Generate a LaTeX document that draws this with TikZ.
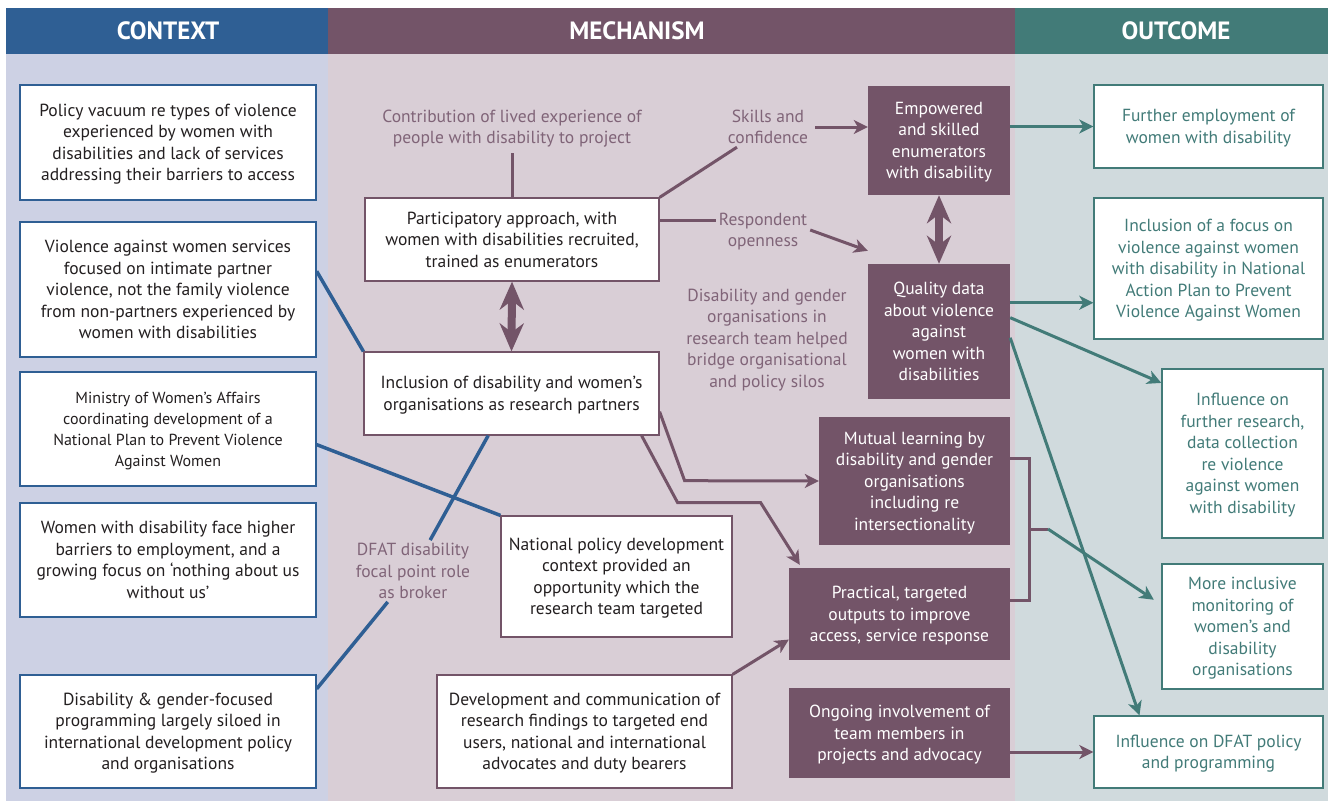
\documentclass[tikz,border=0pt]{standalone}
\usepackage{fontspec}
\setmainfont{PT Sans}
\usepackage{xcolor}
\usetikzlibrary{arrows.meta}
\definecolor{ctxblue}{HTML}{2F5F94}
\definecolor{mechpurple}{HTML}{735468}
\definecolor{outteal}{HTML}{427B78}
\definecolor{ctxbg}{HTML}{CDD1E4}
\definecolor{mechbg}{HTML}{D9CED6}
\definecolor{outbg}{HTML}{D0DADD}
\definecolor{mechtext}{HTML}{806478}
\definecolor{boxtext}{HTML}{231F20}
\newcommand\bodysize{\fontsize{17.5}{21.5}\selectfont}

\begin{document}
\begin{tikzpicture}[x=1pt,y=-1pt]
  \tikzstyle{every node}=[align=center,font=\bodysize,text depth=-2pt]
  \tikzstyle{ctxbox}=[draw=ctxblue,line width=1.4pt,fill=white,text=boxtext,minimum width=296pt]
  \tikzstyle{mechbox}=[draw=mechpurple,line width=1.2pt,fill=white,text=boxtext]
  \tikzstyle{darkbox}=[fill=mechpurple,text=white]
  \tikzstyle{outbox}=[draw=outteal,line width=1.4pt,fill=white,text=outteal]
  \tikzstyle{label}=[text=mechtext,inner sep=3pt]
  \tikzstyle{head}=[text=white,font=\fontsize{25}{28}\selectfont\bfseries]
  \tikzstyle{blueline}=[draw=ctxblue,line width=3.5pt]
  \tikzstyle{purpleline}=[draw=mechpurple,line width=3pt]
  \tikzstyle{purplearrow}=[purpleline,-{Stealth[length=14pt,width=14pt,inset=4pt]}]
  \tikzstyle{tealarrow}=[draw=outteal,line width=3pt,-{Stealth[length=14pt,width=14pt,inset=4pt]}]
  \tikzstyle{twoway}=[draw=mechpurple,line width=8pt,{Stealth[length=28pt,width=24pt,inset=9pt]}-{Stealth[length=28pt,width=24pt,inset=9pt]}]

  \useasboundingbox (0,0) rectangle (1330,807);
  \fill[ctxbg] (6,54) rectangle (328,801);
  \fill[mechbg] (328,54) rectangle (1015,801);
  \fill[outbg] (1015,54) rectangle (1328,801);
  \fill[ctxblue] (6,8) rectangle (328,54);
  \fill[mechpurple] (328,8) rectangle (1015,54);
  \fill[outteal] (1015,8) rectangle (1328,54);
  \node[head] (hctx) at (168,31) {CONTEXT};
  \node[head] (hmech) at (637,31) {MECHANISM};
  \node[head] (hout) at (1176,31) {OUTCOME};

  \node[ctxbox,minimum height=115pt] (vacuum) at (168,142.5) {Policy vacuum re types of violence\\experienced by women with\\disabilities and lack of services\\addressing their barriers to access};
  \node[ctxbox,minimum height=135pt] (vaw) at (168,289.5) {Violence against women services\\focused on intimate partner\\violence, not the family violence\\from non-partners experienced by\\women with disabilities};
  \node[ctxbox,minimum height=114pt,font=\fontsize{16}{21}\selectfont] (ministry) at (168,429) {Ministry of Women’s Affairs\\coordinating development of a\\National Plan to Prevent Violence\\Against Women};
  \node[ctxbox,minimum height=114pt] (barriers) at (168,560) {Women with disability face higher\\barriers to employment, and a\\growing focus on ‘nothing about us\\without us’};
  \node[ctxbox,minimum height=113pt] (siloed) at (168,731.5) {Disability \& gender-focused\\programming largely siloed in\\international development policy\\and organisations};

  \node[label] (lived) at (512,127) {Contribution of lived experience of\\people with disability to project};
  \node[mechbox,minimum width=294pt,minimum height=83pt] (particip) at (512,239.5) {Participatory approach, with\\women with disabilities recruited,\\trained as enumerators};
  \node[mechbox,minimum width=295pt,minimum height=83pt] (inclusion) at (511.5,393.5) {Inclusion of disability and women’s\\organisations as research partners};
  \node[label] (skills) at (768,127) {Skills and\\confidence};
  \node[label] (openness) at (763,230) {Respondent\\openness};
  \node[label] (silos) at (767,338) {Disability and gender\\organisations in\\research team helped\\bridge organisational\\and policy silos};
  \node[label] (broker) at (413,571) {DFAT disability\\focal point role\\as broker};
  \node[darkbox,minimum width=142pt,minimum height=109pt] (empowered) at (939,140.5) {Empowered\\and skilled\\enumerators\\with disability};
  \node[darkbox,minimum width=142pt,minimum height=135pt] (quality) at (939,331.5) {Quality data\\about violence\\against\\women with\\disabilities};
  \node[darkbox,minimum width=191pt,minimum height=128pt] (mutual) at (914.5,481) {Mutual learning by\\disability and gender\\organisations\\including re\\intersectionality};
  \node[darkbox,minimum width=221pt,minimum height=92pt] (outputs) at (899.5,614) {Practical, targeted\\outputs to improve\\access, service response};
  \node[darkbox,minimum width=221pt,minimum height=90pt] (ongoing) at (899.5,733) {Ongoing involvement of\\team members in\\projects and advocacy};
  \node[mechbox,minimum width=231pt,minimum height=121pt] (policyctx) at (616.5,576.5) {National policy development\\context provided an\\opportunity which the\\research team targeted};
  \node[mechbox,minimum width=295pt,minimum height=113pt] (findings) at (584.5,731.5) {Development and communication of\\research findings to targeted end\\users, national and international\\advocates and duty bearers};

  \node[outbox,minimum width=229pt,minimum height=83pt] (employ) at (1208.5,126.5) {Further employment of\\women with disability};
  \node[outbox,minimum width=229pt,minimum height=141pt] (nap) at (1208.5,268.5) {Inclusion of a focus on\\violence against women\\with disability in National\\Action Plan to Prevent\\Violence Against Women};
  \node[outbox,minimum width=161pt,minimum height=169pt] (research) at (1242.5,453.5) {Influence on\\further research,\\data collection\\re violence\\against women\\with disability};
  \node[outbox,minimum width=161pt,minimum height=125pt] (monitor) at (1242.5,626.5) {More inclusive\\monitoring of\\women’s and\\disability\\organisations};
  \node[outbox,minimum width=229pt,minimum height=72pt] (dfatpol) at (1208.5,752) {Influence on DFAT policy\\and programming};

  \draw[blueline] (vaw.7) -- (inclusion.north west);
  \draw[blueline] (ministry.-6) -- (policyctx.north west);
  \draw[blueline] (siloed.16) -- (broker);
  \draw[blueline] (broker) -- (inclusion);

  \draw[purpleline,shorten <=6pt] (lived) -- (particip);
  \draw[purpleline] (particip.north east) -- (skills);
  \draw[purplearrow,shorten <=4pt] (skills.east) -- (skills.east -| empowered.west);
  \draw[purpleline] (particip.east |- openness.169) -- (openness.169);
  \draw[purplearrow] (openness.east) -- ([yshift=13pt]quality.north west);
  \draw[twoway] (empowered.south) -- (quality.north);
  \draw[twoway] (particip.south) -- (inclusion.north);
  \draw[purplearrow] (inclusion.-7) -- ++(25,69) -- (mutual.west);
  \draw[purplearrow] ([xshift=-18pt]inclusion.south east) -- ++(36,67) -- ++(83,0) -- ([xshift=11pt,yshift=3pt]outputs.north west);
  \draw[purplearrow] (findings.north east) -- (outputs.193);
  \draw[purpleline] (mutual.13) -- ++(19,0) |- (outputs.7);
  \coordinate (joint) at (1029,529);
  \draw[purpleline] (joint) -- ++(19,0) coordinate (jointend);
  \draw[purplearrow] (ongoing.east |- dfatpol) -- (dfatpol);

  \draw[tealarrow] (empowered.east |- employ) -- (employ);
  \draw[tealarrow] (quality.22) -- (quality.22 -| nap.west);
  \draw[tealarrow] (quality.11) -- (research.139);
  \draw[tealarrow] (quality.-5) -- (dfatpol.152);
  \draw[tealarrow,shorten >=9pt] (jointend) -- (monitor.165);
\end{tikzpicture}
\end{document}
